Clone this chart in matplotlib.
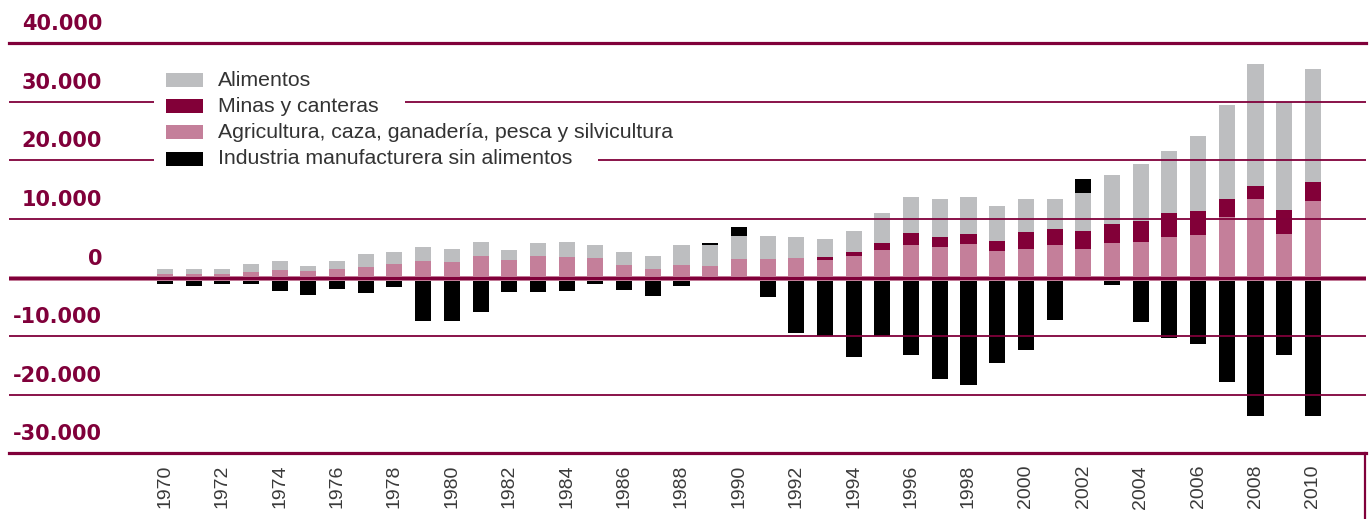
import matplotlib
matplotlib.use("Agg")
import matplotlib.pyplot as plt
from matplotlib.patches import Rectangle
from matplotlib.lines import Line2D
from matplotlib.transforms import ScaledTranslation
import numpy as np

plt.rcParams["font.family"] = ["Liberation Sans", "DejaVu Sans"]

# datos (millones)
years = list(range(1970, 2011))
agricultura = [630, 630, 630, 970, 1310, 1140, 1480, 1820, 2330, 2840,
               2670, 3690, 3010, 3690, 3520, 3350, 2160, 1480, 2160, 1990,
               3180, 3180, 3350, 3010, 3690, 4710, 5570, 5220, 5740, 4540,
               4880, 5570, 4880, 5900, 6080, 6930, 7270, 10330, 13390, 7440,
               13050]
minas = [0, 0, 0, 0, 0, 0, 0, 0, 0, 0,
         0, 0, 0, 0, 0, 0, 0, 0, 0, -400,
         -500, 0, 0, 510, 680, 1190, 2040, 1710, 1700, 1710,
         2900, 2720, 3070, 3240, 3570, 4080, 4080, 3060, 2220, 4080,
         3240]
alimentos = [850, 850, 850, 1360, 1530, 850, 1360, 2210, 2040, 2380,
             2210, 2390, 1700, 2210, 2560, 2220, 2210, 2210, 3410, 3580,
             3920, 3920, 3580, 3070, 3580, 5110, 6120, 6460, 6290, 5950,
             5610, 5100, 6470, 8340, 9700, 10550, 12770, 16000, 20930, 18380,
             19400]
industria = [-1020, -1360, -1020, -1020, -2210, -2890, -1870, -2550, -1530, -7490,
             -7490, -5960, -2380, -2380, -2210, -1020, -2040, -3060, -1360, 330,
             1530, -3290, -9410, -10040, -13500, -9930, -13160, -17240, -18260, -14520,
             -12300, -7200, 2380, -1240, -7540, -10260, -11280, -17750, -23710, -13160,
             -23710]

series_names = ["Alimentos", "Minas y canteras",
                "Agricultura, caza, ganadería, pesca y silvicultura",
                "Industria manufacturera sin alimentos"]
x_ticks = list(range(1970, 2011, 2))
y_ticks = [-30000, -20000, -10000, 0, 10000, 20000, 30000, 40000]
y_labels = ["-30.000", "-20.000", "-10.000", "0", "10.000", "20.000", "30.000", "40.000"]

GRIS = "#bdbec0"
GRANATE = "#820038"
ROSA = "#c47f9a"
NEGRO = "#000000"
LINEA = "#80003a"

fig = plt.figure(figsize=(13.72, 5.19), dpi=100)
W, H = 1372, 519
AX_L, AX_W, AX_B, AX_H = 9, 1357, 453.3, 410
ax = fig.add_axes([AX_L / W, (H - AX_B) / H, AX_W / W, AX_H / H])

x = np.array(years)
pos = np.zeros(len(years))
neg = np.zeros(len(years))
# orden de apilado: agricultura abajo, luego minas, alimentos, industria
for vals, col in [(agricultura, ROSA), (minas, GRANATE), (alimentos, GRIS), (industria, NEGRO)]:
    v = np.array(vals, dtype=float)
    bottom = np.where(v >= 0, pos, neg)
    ax.bar(x, v, bottom=bottom, width=0.56, color=col, linewidth=0, zorder=2)
    pos = np.where(v >= 0, pos + v, pos)
    neg = np.where(v < 0, neg + v, neg)

ax.set_xlim(1964.57, 2011.85)
ax.set_ylim(-30000, 40000)

# lineas horizontales por encima de las barras
for yv in y_ticks:
    if yv in (40000, -30000):
        ax.axhline(yv, color=LINEA, lw=2.3, zorder=3, clip_on=False)
    elif yv == 0:
        ax.axhline(yv, color=ROSA, lw=3.6, zorder=3)
        ax.axhline(yv, color=LINEA, lw=2.2, zorder=3)
    else:
        ax.axhline(yv, color=LINEA, lw=1.3, zorder=3)

# borde vertical a la derecha, bajo el eje
fig.add_artist(Line2D([(AX_L + AX_W - 1) / W] * 2, [0, (H - AX_B) / H],
                      transform=fig.transFigure, color=LINEA, lw=1.6))

for s in ax.spines.values():
    s.set_visible(False)

ax.set_yticks(y_ticks)
ax.set_yticklabels(y_labels)
ax.tick_params(axis="y", length=0, pad=-67)
off = ScaledTranslation(0, 0.21, fig.dpi_scale_trans)
for lab in ax.get_yticklabels():
    lab.set_fontfamily("DejaVu Sans")
    lab.set_fontweight("bold")
    lab.set_fontsize(15)
    lab.set_color(LINEA)
    lab.set_horizontalalignment("right")
    lab.set_transform(lab.get_transform() + off)

ax.set_xticks(x_ticks)
ax.set_xticklabels([str(y) for y in x_ticks], rotation=90, fontsize=14, color="#3a3a3a")
ax.tick_params(axis="x", length=0, pad=8.4)

# leyenda manual (fondo blanco que corta las lineas)
def ax_xy(px, py):
    return (px - AX_L) / AX_W, (AX_B - py) / AX_H

row_y = [80, 106, 132, 159]
colores = [GRIS, GRANATE, ROSA, NEGRO]
textos = []
for nombre, col, ry in zip(series_names, colores, row_y):
    x0, y0 = ax_xy(166, ry + 7)
    x1, y1 = ax_xy(203, ry - 7)
    ax.add_patch(Rectangle((x0, y0), x1 - x0, y1 - y0, transform=ax.transAxes,
                           facecolor=col, edgecolor="none", zorder=5))
    tx, ty = ax_xy(218, ry)
    t = ax.text(tx, ty, nombre, transform=ax.transAxes, fontsize=15.3,
                color="#333333", ha="left", va="center", zorder=5)
    textos.append((t, ry))

fig.canvas.draw()
renderer = fig.canvas.get_renderer()
for t, ry in textos:
    bb = t.get_window_extent(renderer)
    x0, y0 = ax_xy(154, ry + 11)
    x1, y1 = (bb.x1 + 26 - AX_L) / AX_W, (AX_B - (ry - 11)) / AX_H
    ax.add_patch(Rectangle((x0, y0), x1 - x0, y1 - y0, transform=ax.transAxes,
                           facecolor="white", edgecolor="none", zorder=4))

fig.savefig("out.png", dpi=100)
